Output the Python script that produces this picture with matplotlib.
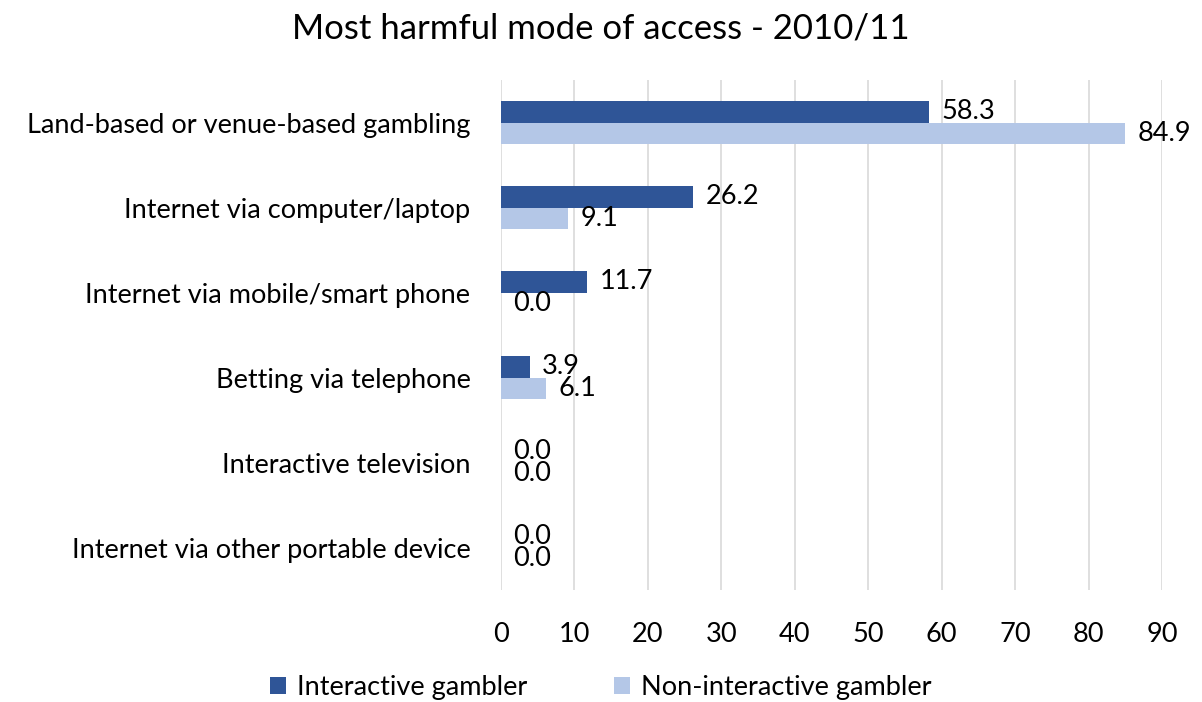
import matplotlib
matplotlib.use("Agg")
import matplotlib.pyplot as plt
import numpy as np

plt.rcParams['font.family'] = ['Lato', 'DejaVu Sans']

categories = [
    "Land-based or venue-based gambling",
    "Internet via computer/laptop",
    "Internet via mobile/smart phone",
    "Betting via telephone",
    "Interactive television",
    "Internet via other portable device",
]
interactive = [58.3, 26.2, 11.7, 3.9, 0.0, 0.0]
non_interactive = [84.9, 9.1, 0.0, 6.1, 0.0, 0.0]
x_ticks = [0, 10, 20, 30, 40, 50, 60, 70, 80, 90]

dark = "#2F5597"
light = "#B4C7E7"
fs = 19.5

fig = plt.figure(figsize=(12.02, 7.02), dpi=100)
ax = fig.add_axes([0.4168, 0.1595, 0.55, 0.7265])

y = np.arange(len(categories))
h = 0.25
b1 = ax.barh(y - h / 2, interactive, height=h, color=dark, label="Interactive gambler", zorder=3)
b2 = ax.barh(y + h / 2, non_interactive, height=h, color=light, label="Non-interactive gambler", zorder=3)

for bars, vals in ((b1, interactive), (b2, non_interactive)):
    for rect, v in zip(bars, vals):
        ax.annotate(f"{v:.1f}", xy=(v, rect.get_y() + rect.get_height() / 2),
                    xytext=(9, 0), textcoords="offset points",
                    va="center", ha="left", fontsize=fs, color="#000000", zorder=4)

ax.set_xlim(0, 90)
ax.set_ylim(len(categories) - 0.5, -0.5)
ax.set_xticks(x_ticks)
ax.set_yticks(y)
ax.set_yticklabels(categories)
ax.tick_params(axis="x", length=0, pad=23, labelsize=fs)
ax.tick_params(axis="y", length=0, pad=22, labelsize=fs)
ax.grid(axis="x", color="#D9D9D9", linewidth=1.2, zorder=0)
for s in ax.spines.values():
    s.set_visible(False)

fig.suptitle("Most harmful mode of access - 2010/11", fontsize=25, y=0.982)

fig.legend(handles=[b1, b2], loc="lower center", bbox_to_anchor=(0.5, -0.032),
           ncol=2, frameon=False, fontsize=fs, handlelength=0.6, handleheight=0.6,
           handletextpad=0.4, columnspacing=3.2)

fig.savefig("out.png", dpi=100)
